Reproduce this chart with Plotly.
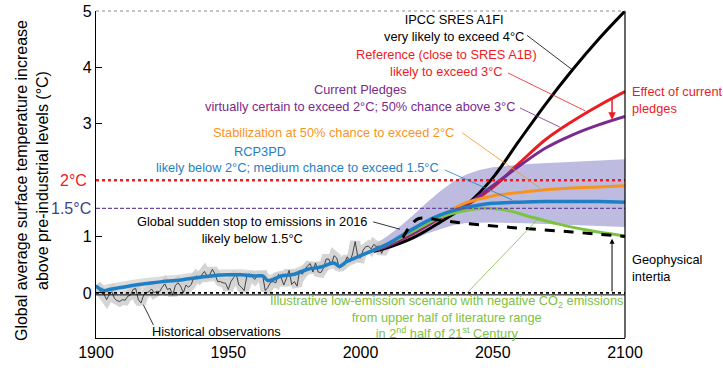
import plotly.graph_objects as go

# ---------------- data ----------------
hist_years = list(range(1900, 2011))
hist_obs = [
    0.14, 0.06, 0.00, -0.02, -0.12, -0.03, 0.02, -0.10, -0.14, -0.15,
    -0.12, -0.13, -0.06, -0.04, 0.06, 0.08, -0.12, -0.18, -0.04, 0.00,
    0.02, 0.07, 0.00, 0.03, 0.02, 0.10, 0.16, 0.06, 0.08, -0.04,
    0.13, 0.18, 0.12, 0.00, 0.14, 0.10, 0.15, 0.27, 0.30, 0.26,
    0.33, 0.38, 0.30, 0.32, 0.42, 0.33, 0.20, 0.20, 0.18, 0.17,
    0.06, 0.20, 0.27, 0.34, 0.14, 0.10, 0.04, 0.29, 0.34, 0.28,
    0.24, 0.30, 0.30, 0.31, 0.04, 0.10, 0.19, 0.20, 0.18, 0.33,
    0.27, 0.14, 0.26, 0.40, 0.15, 0.20, 0.12, 0.40, 0.33, 0.42,
    0.48, 0.52, 0.37, 0.53, 0.37, 0.36, 0.44, 0.60, 0.60, 0.50,
    0.66, 0.62, 0.44, 0.47, 0.54, 0.64, 0.55, 0.69, 0.91, 0.63,
    0.62, 0.76, 0.82, 0.83, 0.78, 0.86, 0.82, 0.83, 0.70, 0.82, 0.87,
]

rcp3_years = [1900, 1903, 1905, 1910, 1915, 1920, 1925, 1930, 1935, 1940, 1945,
              1950, 1955, 1960, 1963, 1965, 1968, 1970, 1975, 1980, 1985, 1990,
              1992, 1995, 2000, 2005, 2010, 2015, 2020, 2025, 2030, 2035, 2040,
              2045, 2050, 2060, 2070, 2080, 2090, 2100]
rcp3_vals = [0.12, 0.04, 0.06, 0.10, 0.14, 0.17, 0.20, 0.22, 0.25, 0.28, 0.31,
             0.32, 0.32, 0.30, 0.30, 0.22, 0.26, 0.30, 0.33, 0.42, 0.46, 0.53,
             0.47, 0.56, 0.66, 0.76, 0.86, 1.00, 1.14, 1.27, 1.38, 1.46, 1.52,
             1.56, 1.59, 1.61, 1.62, 1.62, 1.62, 1.61]

proj_years = [2005, 2010, 2020, 2030, 2040, 2050, 2060, 2070, 2080, 2090, 2100]
a1fi_vals = [0.74, 0.80, 0.98, 1.25, 1.56, 2.04, 2.70, 3.35, 3.95, 4.50, 5.00]
ref_vals = [0.75, 0.83, 1.05, 1.32, 1.55, 1.87, 2.30, 2.72, 3.04, 3.32, 3.57]
pledge_vals = [0.75, 0.83, 1.06, 1.33, 1.56, 1.90, 2.25, 2.57, 2.80, 2.98, 3.13]
stab_vals = [0.76, 0.86, 1.10, 1.36, 1.60, 1.72, 1.78, 1.83, 1.86, 1.88, 1.90]

green_years = [2005, 2010, 2020, 2030, 2040, 2047, 2055, 2065, 2075, 2085, 2100]
green_vals = [0.76, 0.86, 1.10, 1.34, 1.46, 1.50, 1.47, 1.34, 1.22, 1.12, 1.01]

stop_years = [2016, 2019, 2022, 2026, 2030, 2040, 2060, 2080, 2100]
stop_vals = [0.98, 1.20, 1.32, 1.32, 1.29, 1.23, 1.15, 1.08, 1.00]

band_years = [2005, 2010, 2015, 2020, 2025, 2030, 2035, 2040, 2045, 2050, 2065, 2080, 2100]
band_low = [0.70, 0.76, 0.85, 0.95, 1.05, 1.13, 1.20, 1.24, 1.25, 1.25, 1.23, 1.20, 1.17]
band_high = [0.85, 1.00, 1.18, 1.38, 1.60, 1.80, 1.97, 2.10, 2.18, 2.23, 2.29, 2.32, 2.37]

y_ticks = [0, 1, 3, 4, 5]
x_ticks = [1900, 1950, 2000, 2050, 2100]

# ---------------- style ----------------
FONT = "Liberation Sans, Arial, Helvetica, sans-serif"
BLACK = "#000000"
RED = "#ec1c24"
PURPLE = "#7a2a8c"
ORANGE = "#f7941d"
BLUE = "#1f7fc4"
GREEN = "#7dc242"
BAND = "#bdbbe0"
ASIZE = 12.8

fig = go.Figure()

# lavender uncertainty band
fig.add_trace(go.Scatter(x=band_years, y=band_high, mode="lines",
                         line=dict(width=0, color=BAND), hoverinfo="skip"))
fig.add_trace(go.Scatter(x=band_years, y=band_low, mode="lines", fill="tonexty",
                         fillcolor=BAND, line=dict(width=0, color=BAND), hoverinfo="skip"))

# gray historical envelope
fig.add_trace(go.Scatter(x=hist_years, y=hist_obs, mode="lines",
                         line=dict(color="rgba(195,195,195,0.7)", width=10)))
fig.add_trace(go.Scatter(x=rcp3_years[:25], y=rcp3_vals[:25], mode="lines",
                         line=dict(color="rgba(205,205,205,0.7)", width=11, shape="spline")))
# historical observations
fig.add_trace(go.Scatter(x=hist_years, y=hist_obs, mode="lines",
                         line=dict(color="#333333", width=0.9)))

# projections
fig.add_trace(go.Scatter(x=proj_years, y=a1fi_vals, mode="lines",
                         line=dict(color=BLACK, width=3, shape="spline")))
fig.add_trace(go.Scatter(x=proj_years, y=ref_vals, mode="lines",
                         line=dict(color=RED, width=3, shape="spline")))
fig.add_trace(go.Scatter(x=proj_years, y=pledge_vals, mode="lines",
                         line=dict(color=PURPLE, width=3, shape="spline")))
fig.add_trace(go.Scatter(x=proj_years, y=stab_vals, mode="lines",
                         line=dict(color=ORANGE, width=3, shape="spline")))
fig.add_trace(go.Scatter(x=green_years, y=green_vals, mode="lines",
                         line=dict(color=GREEN, width=3, shape="spline")))
fig.add_trace(go.Scatter(x=rcp3_years, y=rcp3_vals, mode="lines",
                         line=dict(color=BLUE, width=3.5, shape="spline")))
fig.add_trace(go.Scatter(x=stop_years, y=stop_vals, mode="lines",
                         line=dict(color=BLACK, width=3, dash="10px,9px", shape="spline")))

shapes = []
# reference lines
shapes.append(dict(type="line", xref="x", yref="y", x0=1900, x1=2100, y0=2, y1=2,
                   line=dict(color=RED, width=2.5, dash="dot"), layer="above"))
shapes.append(dict(type="line", xref="x", yref="y", x0=1900, x1=2100, y0=1.5, y1=1.5,
                   line=dict(color="#6a4a9a", width=1.2, dash="4px,2px"), layer="above"))
shapes.append(dict(type="line", xref="x", yref="y", x0=1900, x1=2100, y0=0.0, y1=0.0,
                   line=dict(color=BLACK, width=1.6, dash="dot"), layer="above"))
shapes.append(dict(type="line", xref="x", yref="y", x0=1900, x1=2100, y0=-0.035, y1=-0.035,
                   line=dict(color=BLACK, width=1), layer="above"))
# frame: right solid, top dotted gray
shapes.append(dict(type="line", xref="paper", yref="paper", x0=1, x1=1, y0=0, y1=1,
                   line=dict(color=BLACK, width=1.2)))
shapes.append(dict(type="line", xref="paper", yref="paper", x0=0, x1=1, y0=1, y1=1,
                   line=dict(color="#8a8a8a", width=1, dash="dot")))


def leader(x0, y0, x1, y1, color):
    shapes.append(dict(type="line", xref="x", yref="y", x0=x0, y0=y0, x1=x1, y1=y1,
                       line=dict(color=color, width=0.8)))


leader(2062.9, 4.57, 2080.3, 3.95, BLACK)
leader(2055.8, 3.90, 2084.9, 3.23, RED)
leader(2060.3, 3.28, 2075.4, 2.94, PURPLE)
leader(2038.4, 2.84, 2067.9, 1.86, ORANGE)
leader(2031.9, 2.18, 2057.3, 1.65, BLUE)
leader(2004.8, 1.26, 2014.9, 1.13, BLACK)
leader(1917.9, -0.21, 1921.7, -0.57, BLACK)
leader(2040.3, 0.0, 2066.7, 1.29, GREEN)

ann = []


def text(x, y, s, color, size=ASIZE, xanchor="center", align="center"):
    ann.append(dict(x=x, y=y, xref="x", yref="y", text=s, showarrow=False,
                    font=dict(family=FONT, size=size, color=color),
                    xanchor=xanchor, yanchor="middle", align=align))


text(2035.3, 4.70, "IPCC SRES A1FI<br>very likely to exceed 4°C", BLACK)
text(2032.7, 4.08, "Reference (close to SRES A1B)<br>likely to exceed 3°C", RED)
text(1999.8, 3.46, "Current Pledges<br>virtually certain to exceed 2°C; 50% chance above 3°C", PURPLE)
text(1989.8, 2.85, "Stabilization at 50% chance to exceed 2°C", ORANGE)
text(1962.0, 2.50, "RCP3PD", BLUE)
text(1976.0, 2.23, "likely below 2°C; medium chance to exceed 1.5°C", BLUE)
text(1959.0, 1.12, "Global sudden stop to emissions in 2016<br>likely below 1.5°C", BLACK)
text(1945.7, -0.69, "Historical observations", BLACK)
text(2032.4, -0.42,
     "Illustrative low-emission scenario with negative CO<sub>2</sub> emissions<br>"
     "from upper half of literature range<br>in 2<sup>nd</sup> half of 21<sup>st</sup> Century",
     GREEN)

# right-margin labels (paper x beyond the plot)
ann.append(dict(x=1.0, y=3.42, xref="paper", yref="y", xshift=5, text="Effect of current<br>pledges",
                showarrow=False, xanchor="left", yanchor="middle", align="left",
                font=dict(family=FONT, size=ASIZE, color=RED)))
ann.append(dict(x=1.0, y=0.45, xref="paper", yref="y", xshift=5, text="Geophysical<br>intertia",
                showarrow=False, xanchor="left", yanchor="middle", align="left",
                font=dict(family=FONT, size=ASIZE, color=BLACK)))

# arrows
ann.append(dict(x=2095.1, y=3.07, ax=2095.1, ay=3.48, xref="x", yref="y", axref="x", ayref="y",
                text="", showarrow=True, arrowhead=2, arrowsize=1, arrowwidth=1.5, arrowcolor=RED))
ann.append(dict(x=2095.1, y=0.96, ax=2095.1, ay=0.0, xref="x", yref="y", axref="x", ayref="y",
                text="", showarrow=True, arrowhead=2, arrowsize=1, arrowwidth=1, arrowcolor=BLACK))

# special y labels
ann.append(dict(x=0, y=2, xref="paper", yref="y", text="2°C", showarrow=False, xanchor="right",
                yanchor="middle", xshift=-7, font=dict(family=FONT, size=16, color=RED)))
ann.append(dict(x=0, y=1.5, xref="paper", yref="y", text="1.5°C", showarrow=False, xanchor="right",
                yanchor="middle", xshift=-3, font=dict(family=FONT, size=16, color="#3b3f8c")))
# y title
ann.append(dict(x=-0.121, y=0.483, xref="paper", yref="paper", textangle=-90,
                xanchor="center", yanchor="middle",
                text="Global average surface temperature increase<br>above pre-industrial levels (°C)",
                showarrow=False, font=dict(family=FONT, size=16, color=BLACK)))

fig.update_layout(
    width=723, height=371,
    margin=dict(l=96, r=98, t=11, b=33, pad=0),
    paper_bgcolor="white", plot_bgcolor="white",
    showlegend=False,
    shapes=shapes, annotations=ann,
    font=dict(family=FONT, size=16, color=BLACK),
)
fig.update_xaxes(range=[1900, 2100], tickvals=x_ticks, showgrid=False, zeroline=False,
                 showline=True, linecolor=BLACK, linewidth=1.2, ticks="", automargin=False,
                 tickfont=dict(family=FONT, size=16, color=BLACK))
fig.update_yaxes(range=[-0.8, 5.0], tickvals=y_ticks, showgrid=False, zeroline=False,
                 showline=True, linecolor=BLACK, linewidth=1.2, ticks="inside", ticklen=6,
                 automargin=False,
                 tickcolor=BLACK, tickfont=dict(family=FONT, size=16, color=BLACK))

fig.write_html("out.html", config={"displayModeBar": False},
               post_script="document.body.style.margin='0';")
